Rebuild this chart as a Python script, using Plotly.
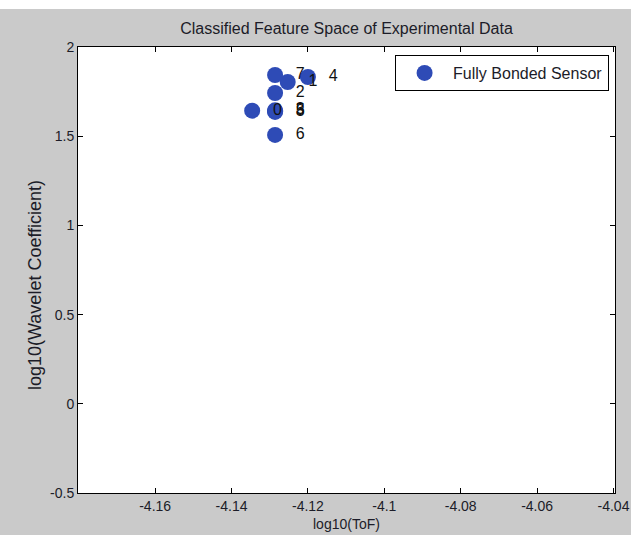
import plotly.graph_objects as go

# Data
point_labels = ["0", "1", "2", "3", "4", "5", "6", "7", "8"]
tof_log = [-4.1346, -4.1253, -4.1286, -4.1286, -4.1200, -4.1286, -4.1286, -4.1286, -4.1286]
wavelet_log = [1.643, 1.804, 1.742, 1.645, 1.832, 1.640, 1.507, 1.843, 1.636]
series_name = "Fully Bonded Sensor"

x_tickvals = [-4.16, -4.14, -4.12, -4.10, -4.08, -4.06, -4.04]
x_ticktext = ["-4.16", "-4.14", "-4.12", "-4.1", "-4.08", "-4.06", "-4.04"]
y_tickvals = [-0.5, 0, 0.5, 1, 1.5, 2]
y_ticktext = ["-0.5", "0", "0.5", "1", "1.5", "2"]

FONT = "Liberation Sans, Arial, sans-serif"
TXT = "#1c1c28"
MARK = "#2e4bb6"
label_dx = 0.0066

fig = go.Figure()
fig.add_trace(go.Scatter(
    x=tof_log, y=wavelet_log, mode="markers", name=series_name,
    marker=dict(symbol="circle", size=16, color=MARK, line=dict(width=0)),
))
fig.add_trace(go.Scatter(
    x=[v + label_dx for v in tof_log], y=wavelet_log, mode="text",
    text=point_labels, textposition="middle center",
    textfont=dict(family=FONT, size=16, color="#111111"),
    showlegend=False, hoverinfo="skip",
))

axis_common = dict(
    showline=True, linecolor="black", linewidth=1, mirror="ticks",
    ticks="inside", ticklen=5, tickcolor="black", showgrid=False, zeroline=False,
    automargin=False,
    tickfont=dict(family=FONT, size=14, color=TXT),
)
fig.update_xaxes(range=[-4.1802, -4.0396], tickvals=x_tickvals, ticktext=x_ticktext, **axis_common)
fig.update_yaxes(range=[-0.5, 2], tickvals=y_tickvals, ticktext=y_ticktext, **axis_common)

fig.update_layout(
    width=631, height=535,
    margin=dict(l=78, r=16, t=47, b=42),
    paper_bgcolor="#cacaca", plot_bgcolor="white",
    font=dict(family=FONT, color=TXT),
    title=dict(text="Classified Feature Space of Experimental Data",
               x=0.5, xref="paper", xanchor="center",
               y=1 - 28 / 535, yref="container", yanchor="middle",
               font=dict(family=FONT, size=16, color=TXT)),
    showlegend=True,
    legend=dict(x=0.989, xanchor="right", y=0.982, yanchor="top",
                bgcolor="white", bordercolor="black", borderwidth=1,
                font=dict(family=FONT, size=16, color=TXT), itemwidth=47),
    shapes=[dict(type="rect", xref="paper", yref="paper",
                 x0=-0.3, x1=1.2, y0=(493 - 9) / 446, y1=1.3,
                 fillcolor="white", line=dict(width=0), layer="above")],
    annotations=[
        dict(text="log10(ToF)", xref="paper", yref="paper", x=0.5, y=(493 - 524) / 446,
             xanchor="center", yanchor="middle", showarrow=False,
             font=dict(family=FONT, size=14, color=TXT)),
        dict(text="log10(Wavelet Coefficient)", xref="paper", yref="paper",
             x=(35 - 78) / 537, y=(493 - 285) / 446, textangle=-90,
             xanchor="center", yanchor="middle", showarrow=False,
             font=dict(family=FONT, size=18, color=TXT)),
    ],
)

fig.write_html("out.html", config={"displayModeBar": False},
               post_script="document.body.style.margin='0';document.body.style.overflow='hidden';")
